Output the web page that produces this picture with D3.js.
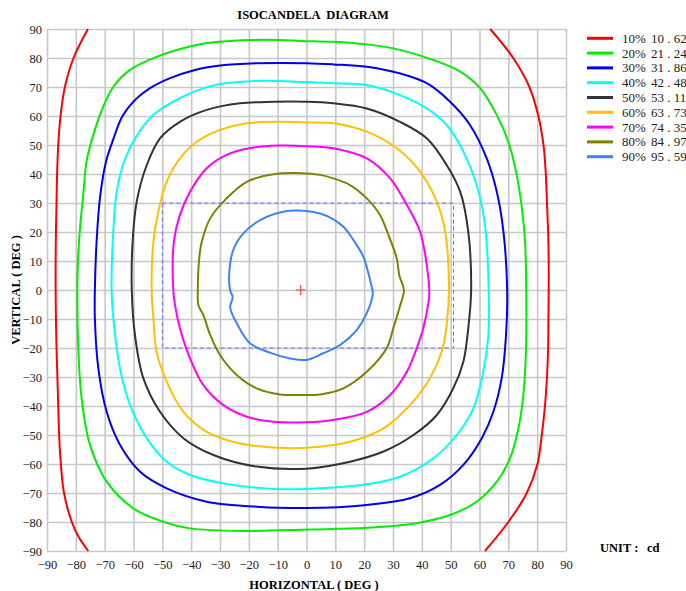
<!DOCTYPE html>
<html>
<head>
<meta charset="utf-8">
<script src="https://cdn.jsdelivr.net/npm/d3@7"></script>
<style>
  body { margin: 0; background: #fff; }
  text { font-family: "Liberation Serif", "Times New Roman", serif; }
</style>
</head>
<body>
<div id="chart"></div>
<script>
// iso levels, legend text
var levelPct = ["10%", "20%", "30%", "40%", "50%", "60%", "70%", "80%", "90%"];
var levelCd = ["10 . 62", "21 . 24", "31 . 86", "42 . 48", "53 . 11", "63 . 73", "74 . 35", "84 . 97", "95 . 59"];
var levelColor = ["#ff0000", "#00ee00", "#0000ee", "#00ffff", "#333333", "#ffc000", "#ff00ff", "#808000", "#3c82ff"];

var ticks = [-90, -80, -70, -60, -50, -40, -30, -20, -10, 0, 10, 20, 30, 40, 50, 60, 70, 80, 90];

// contour points [horizontal, vertical] in degrees
var red10Left = [[-75.8,90],[-80.8,80],[-83.8,70],[-85.3,60],[-86.1,50],[-86.5,40],[-86.7,30],[-86.9,20],[-87,10],[-87,0],[-86.9,-10],[-86.7,-20],[-86.4,-30],[-86.1,-40],[-85.8,-50],[-85.2,-60],[-84.1,-70],[-81.4,-80],[-79.1,-85],[-75.7,-90]];
var red10Right = [[63.7,90],[71.7,80],[77.3,70],[80.4,60],[82.2,50],[83,40],[83.4,30],[83.8,20],[84,10],[84,0],[83.9,-10],[83.8,-20],[83.4,-30],[82.7,-40],[81.6,-50],[80.1,-60],[76.4,-70],[70,-80],[61.9,-90]];
var green20 = [[-79.5,0],[-79.2,11],[-78.5,22],[-77.5,32],[-76.2,44.8],[-73.4,55.2],[-70.5,63.2],[-67,70.1],[-61.2,75.9],[-52,80.4],[-38.5,84.4],[-30,85.6],[-19.6,86.2],[-9.2,86.2],[-2,85.9],[9.3,85.6],[20.9,84.7],[32.4,82.8],[44,79.3],[53.3,75.3],[60.2,69.6],[66,60.3],[70,51.1],[72.9,39.7],[74.7,28.2],[75.8,16.7],[76.2,0],[76.1,-21.3],[75.2,-36.2],[73.5,-47.7],[70.6,-58],[66,-66.1],[59,-73],[49.8,-77.6],[38.2,-80.4],[20.9,-82],[1,-82.6],[-20.7,-83.1],[-40.4,-82.2],[-49.7,-79.9],[-60.1,-75.3],[-69.3,-66.1],[-75.1,-53.4],[-78,-37.3],[-79.1,-21.3]];
var blue30 = [[-73.4,0],[-72.8,16.7],[-71.6,32],[-69.6,44],[-67,52],[-63.8,60],[-59,66],[-54,69.8],[-47.5,73],[-39,75.8],[-30,77.4],[-17.3,78.2],[0,78.2],[9.3,77.8],[20.9,77],[32.4,74.7],[41.7,71.3],[49.8,64.9],[56.7,56.9],[62.5,45.4],[66,33.9],[68.3,20.1],[69.6,0],[69.2,-15.5],[67.7,-30.4],[64.8,-42],[60.8,-51.1],[54.4,-60.3],[46.3,-67.2],[35.9,-71.8],[20.9,-74.1],[0,-75.2],[-17.3,-74.7],[-34.6,-73],[-48.5,-68.4],[-57.7,-62.7],[-64.7,-53.4],[-69.3,-42],[-72.2,-27],[-73.4,-9.8]];
var cyan40 = [[-67.6,0],[-67.2,16.7],[-65.8,34],[-63,45],[-59,53],[-53.5,60],[-47,64.5],[-38.8,68.5],[-30,71],[-17.3,72.1],[0,71.7],[9.3,71.3],[20.9,70.7],[32.4,67.2],[41.7,62.6],[48.6,56.9],[54.4,47.7],[59,36.2],[61.9,22.4],[63.2,0],[63.1,-15.5],[61.1,-29.3],[57.9,-40.8],[52.1,-50],[44,-58],[32.4,-64.4],[20.9,-67],[0,-68.6],[-11.5,-68.6],[-28.8,-66.7],[-40.4,-63.8],[-48.5,-59.2],[-55.4,-51.1],[-61.2,-39.7],[-64.7,-27],[-67,-9.8]];
var black50 = [[-60.6,0],[-60.3,16.7],[-58.9,30.4],[-55.4,43.1],[-50.8,52.3],[-43.9,58],[-34.6,62.1],[-23.1,64.4],[-11.5,64.9],[0,64.9],[9.3,64.4],[20.9,62.6],[32.4,58],[41.7,52.3],[48.6,43.1],[53.3,33.9],[56.1,20.1],[57.1,0],[56.1,-13.2],[54.4,-24.7],[50.9,-33.9],[45.2,-43.1],[37.1,-50],[26.7,-55.7],[15.1,-59.2],[0,-61.6],[-17.3,-60.9],[-32.3,-56.9],[-42.7,-51.1],[-50.8,-42],[-56.6,-30.4],[-59.5,-15.5]];
var yellow60 = [[-53.7,0],[-53.1,16.7],[-51.4,27],[-48.5,37.3],[-43.9,45.4],[-38.1,51.1],[-30,55.2],[-20.7,57.5],[-9.2,58],[0,57.8],[9.3,57.5],[20.9,54.6],[31.3,48.9],[39.4,40.8],[45.2,30.4],[48.1,20.1],[49.4,0],[48.6,-12.1],[46.9,-21.3],[42.8,-30.4],[35.9,-39.7],[26.7,-47.7],[15.1,-52.3],[0,-54.4],[-9.2,-54.4],[-23.1,-52.9],[-34.6,-48.9],[-42.7,-42],[-48.5,-31.6],[-52,-21.3],[-53.1,-9.8]];
var magenta70 = [[-46.2,0],[-46,16.7],[-43.9,25.9],[-40.4,33.9],[-34.6,42],[-27.7,46.6],[-18.4,49.1],[-9.2,49.8],[0,49.6],[9.3,48.9],[20.9,45.4],[29,38.5],[34.8,29.3],[39.4,20.1],[41.7,8.6],[42.6,-0.8],[42.3,-4.3],[40.5,-13.2],[38.2,-20.1],[34.8,-28.2],[29,-36.2],[20.9,-42],[9.3,-44.8],[0,-45.6],[-11.5,-45.4],[-20.7,-43.7],[-28.8,-39.7],[-35.8,-32.8],[-40.4,-23.6],[-43.9,-13.2],[-45.6,-5.2]];
var olive80 = [[-37.7,0],[-37.2,10.9],[-36.3,16.7],[-33.4,24.7],[-27.7,31.6],[-20.7,37.3],[-11.5,39.9],[-2,40.3],[4.7,39.7],[9.3,38.5],[15.1,36.2],[20.9,31.6],[25.5,25.9],[28.4,19],[31.3,10.9],[32.2,5],[33.8,0],[32.4,-5.6],[30.1,-13.2],[27.8,-20.1],[20.9,-28.2],[12.8,-33.9],[4.7,-36],[-2.2,-36.2],[-9.2,-36],[-17.3,-33.9],[-24.2,-29.3],[-30,-22.4],[-33.4,-15.5],[-35.8,-8.6],[-37.5,-5.2]];
var lightBlue90 = [[-26.5,0],[-26.8,5.7],[-25.4,13.8],[-21.9,19.5],[-16.1,24.1],[-8.1,27],[-1.1,27.3],[4.7,26.4],[8.7,24.7],[12.8,21.8],[16.3,17.2],[19.7,11.5],[21.5,5.7],[22.6,1.1],[23,-1.1],[20.9,-8],[17.4,-13.8],[11.6,-19],[5.8,-21.8],[0,-24.1],[-5.7,-23.6],[-12.7,-21.6],[-19.6,-18.4],[-24.2,-11.5],[-25.9,-8],[-26.5,-5.7],[-25.6,-2.5]];

// measuring window and aim point
var windowH = [-50, 51];
var windowV = [-20, 30];
var aimPoint = [-2, 0];

var closedCurves = [green20, blue30, cyan40, black50, yellow60, magenta70, olive80, lightBlue90];

var W = 686, H = 591;
var margin = {left: 47, top: 29},
    pw = 519, ph = 522;

var svg = d3.select("#chart").append("svg")
    .attr("width", W)
    .attr("height", H);

var x = d3.scaleLinear().domain([-90, 90]).range([0, pw]);
var y = d3.scaleLinear().domain([-90, 90]).range([ph, 0]);

var g = svg.append("g")
    .attr("transform", "translate(" + margin.left + "," + margin.top + ")");

// grid + ticks through the axes
var xAxis = g.append("g")
    .attr("transform", "translate(0," + ph + ")")
    .call(d3.axisBottom(x).tickValues(ticks).tickSizeInner(-ph).tickSizeOuter(0).tickPadding(9));
var yAxis = g.append("g")
    .call(d3.axisLeft(y).tickValues(ticks).tickSizeInner(-pw).tickSizeOuter(0).tickPadding(5));

[xAxis, yAxis].forEach(function(a) {
  a.attr("font-family", null);
  a.select(".domain").remove();
  a.selectAll(".tick line").attr("stroke", "#c8c8c8").attr("stroke-width", 1.6);
  a.selectAll(".tick text")
    .attr("fill", "#222")
    .style("font-family", "'Liberation Serif', serif")
    .style("font-size", "12.5px");
});

// window
g.append("rect")
  .attr("x", x(windowH[0]))
  .attr("y", y(windowV[1]))
  .attr("width", x(windowH[1]) - x(windowH[0]))
  .attr("height", y(windowV[0]) - y(windowV[1]))
  .attr("fill", "none")
  .attr("stroke", "#6a6aff")
  .attr("stroke-width", 1)
  .attr("stroke-dasharray", "4,3");

var lineClosed = d3.line()
    .x(function(d) { return x(d[0]); })
    .y(function(d) { return y(d[1]); })
    .curve(d3.curveCatmullRomClosed.alpha(0.5));
var lineOpen = d3.line()
    .x(function(d) { return x(d[0]); })
    .y(function(d) { return y(d[1]); })
    .curve(d3.curveCatmullRom.alpha(0.5));

[red10Left, red10Right].forEach(function(c) {
  g.append("path")
    .attr("d", lineOpen(c))
    .attr("fill", "none")
    .attr("stroke", levelColor[0])
    .attr("stroke-width", 2);
});

closedCurves.forEach(function(c, i) {
  g.append("path")
    .attr("d", lineClosed(c))
    .attr("fill", "none")
    .attr("stroke", levelColor[i + 1])
    .attr("stroke-width", 2);
});

// aim cross
var cx = x(aimPoint[0]), cy = y(aimPoint[1]);
g.append("path")
  .attr("d", "M" + (cx - 5) + "," + cy + "H" + (cx + 5) + "M" + cx + "," + (cy - 5) + "V" + (cy + 5))
  .attr("stroke", "#ff3030")
  .attr("stroke-width", 1);

// titles
svg.append("text")
  .attr("x", 313).attr("y", 19)
  .attr("text-anchor", "middle")
  .style("font-weight", "bold")
  .style("font-size", "12.5px")
  .style("white-space", "pre")
  .text("ISOCANDELA  DIAGRAM");

svg.append("text")
  .attr("x", 314).attr("y", 589)
  .attr("text-anchor", "middle")
  .style("font-weight", "bold")
  .style("font-size", "12.5px")
  .text("HORIZONTAL ( DEG )");

svg.append("text")
  .attr("transform", "translate(20,290) rotate(-90)")
  .attr("text-anchor", "middle")
  .style("font-weight", "bold")
  .style("font-size", "12.5px")
  .text("VERTICAL ( DEG )");

svg.append("text")
  .attr("x", 600).attr("y", 552)
  .style("font-weight", "bold")
  .style("font-size", "12.5px")
  .text("UNIT :");
svg.append("text")
  .attr("x", 647).attr("y", 552)
  .style("font-weight", "bold")
  .style("font-size", "12.5px")
  .text("cd");

// legend
var legend = svg.append("g");
var rows = legend.selectAll("g")
  .data(levelPct)
  .enter().append("g")
  .attr("transform", function(d, i) { return "translate(0," + (38.3 + i * 14.8) + ")"; });
rows.append("line")
  .attr("x1", 587).attr("x2", 613)
  .attr("stroke", function(d, i) { return levelColor[i]; })
  .attr("stroke-width", 3);
rows.append("text")
  .attr("x", 622).attr("y", 4.5)
  .style("font-size", "13px")
  .attr("fill", "#222")
  .text(function(d) { return d; });
rows.append("text")
  .attr("x", 651).attr("y", 4.5)
  .style("font-size", "13px")
  .attr("fill", "#222")
  .text(function(d, i) { return levelCd[i]; });
</script>
</body>
</html>
